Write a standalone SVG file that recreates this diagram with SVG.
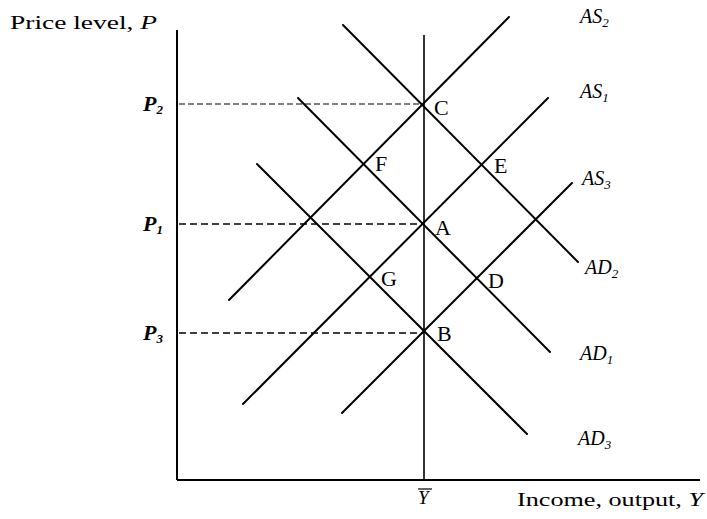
<svg xmlns="http://www.w3.org/2000/svg" width="707" height="519" viewBox="0 0 707 519">
<style>
.curve{stroke:#000;stroke-width:2;fill:none;stroke-linecap:round}
.axis{stroke:#000;stroke-width:2;fill:none}
.dash{stroke:#000;stroke-width:1.6;stroke-dasharray:7 4;fill:none}
.t{font-family:"Liberation Serif","Times New Roman",serif;fill:#000}
.lab{font-size:22px}
.it{font-style:italic}
.pl{font-style:italic;font-weight:bold;font-size:22px}
.sub{font-size:13px}
</style>
<rect width="707" height="519" fill="#fff"/>
<g id="connectors">
<line class="axis" x1="177" y1="30" x2="177" y2="480"/>
<line class="axis" x1="177" y1="480" x2="700" y2="480"/>
<line class="axis" x1="424" y1="35" x2="424" y2="480" style="stroke-width:1.6"/>
<line class="dash" x1="179" y1="104" x2="424" y2="104" style="stroke-width:1.2;stroke-dasharray:6 3"/>
<line class="dash" x1="179" y1="224" x2="424" y2="224"/>
<line class="dash" x1="179" y1="333" x2="424" y2="333"/>
<line id="AS2" class="curve" x1="229" y1="300" x2="509" y2="17"/>
<line id="AS1" class="curve" x1="243" y1="404" x2="548" y2="98"/>
<line id="AS3" class="curve" x1="342" y1="413" x2="572" y2="183"/>
<line id="AD2" class="curve" x1="343" y1="25" x2="578" y2="262"/>
<line id="AD1" class="curve" x1="298" y1="98" x2="550" y2="352"/>
<line id="AD3" class="curve" x1="257" y1="164" x2="527" y2="434"/>
</g>
<g id="axis-labels">
<text class="t" x="10" y="29" font-size="18" textLength="147" lengthAdjust="spacingAndGlyphs">Price level, <tspan class="it">P</tspan></text>
<text class="t" x="517" y="506" font-size="19" textLength="186" lengthAdjust="spacingAndGlyphs">Income, output, <tspan class="it">Y</tspan></text>
<g id="ybar"><text class="t it" x="418" y="504" font-size="19">Y</text><line x1="418" y1="489" x2="432" y2="489" stroke="#000" stroke-width="1.2"/></g>
</g>
<g id="price-labels">
<text class="t pl" x="143" y="111">P<tspan class="sub" dy="3">2</tspan></text>
<text class="t pl" x="143" y="231">P<tspan class="sub" dy="3">1</tspan></text>
<text class="t pl" x="143" y="340">P<tspan class="sub" dy="3">3</tspan></text>
</g>
<g id="points">
<g id="C"><text class="t lab" x="434" y="115">C</text></g>
<g id="F"><text class="t lab" x="375" y="171">F</text></g>
<g id="E"><text class="t lab" x="494" y="173">E</text></g>
<g id="A"><text class="t lab" x="435" y="235">A</text></g>
<g id="G"><text class="t lab" x="381" y="286">G</text></g>
<g id="D"><text class="t lab" x="488" y="288">D</text></g>
<g id="B"><text class="t lab" x="437" y="341">B</text></g>
</g>
<g id="curve-labels">
<text class="t it" x="580" y="23" font-size="20">AS<tspan class="sub" dy="4">2</tspan></text>
<text class="t it" x="580" y="98" font-size="20">AS<tspan class="sub" dy="4">1</tspan></text>
<text class="t it" x="582" y="185" font-size="20">AS<tspan class="sub" dy="4">3</tspan></text>
<text class="t it" x="585" y="274" font-size="20">AD<tspan class="sub" dy="4">2</tspan></text>
<text class="t it" x="580" y="360" font-size="20">AD<tspan class="sub" dy="4">1</tspan></text>
<text class="t it" x="578" y="445" font-size="20">AD<tspan class="sub" dy="4">3</tspan></text>
</g>
</svg>
